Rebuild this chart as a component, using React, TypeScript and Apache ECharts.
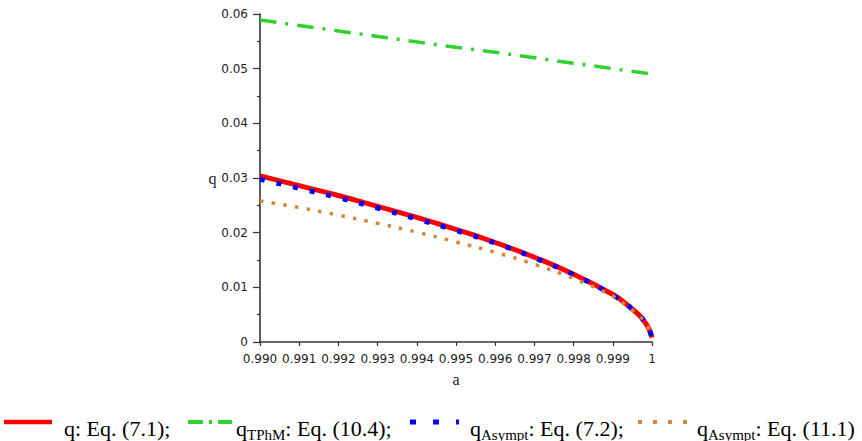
import React, { useEffect, useRef } from 'react';
import * as echarts from 'echarts';

// Sample points in a (denser towards a = 1, where the curves bend sharply)
const aValues = [0.99, 0.991, 0.992, 0.993, 0.994, 0.995, 0.996, 0.997, 0.998, 0.999, 0.9993, 0.9995, 0.9997, 0.9998, 0.9999, 0.99995, 1.0];
// q: Eq. (7.1)
const qEq71 = [0.0304, 0.0286, 0.0268, 0.0248, 0.0228, 0.0206, 0.0182, 0.0155, 0.0124, 0.0087, 0.0072, 0.006, 0.0047, 0.0038, 0.0027, 0.0019, 0.0008];
// q_Asympt: Eq. (7.2)
const qEq72 = [0.0298, 0.0281, 0.0264, 0.0245, 0.0225, 0.0204, 0.0181, 0.0154, 0.0123, 0.0086, 0.0071, 0.006, 0.0047, 0.0038, 0.0027, 0.0019, 0.0008];
// q_Asympt: Eq. (11.1)
const qEq111 = [0.0258, 0.0246, 0.0232, 0.0217, 0.0201, 0.0183, 0.0164, 0.0142, 0.0116, 0.0084, 0.0069, 0.0058, 0.0046, 0.0038, 0.0027, 0.0019, 0.0008];

// q_TPhM: Eq. (10.4)
const aTPhM = [0.99, 0.991, 0.992, 0.993, 0.994, 0.995, 0.996, 0.997, 0.998, 0.999, 1.0];
const qEq104 = [0.0589, 0.0579, 0.0569, 0.0559, 0.0549, 0.0539, 0.053, 0.052, 0.051, 0.05, 0.049];

// Axis tick labels
const xTickLabels = ['0.990', '0.991', '0.992', '0.993', '0.994', '0.995', '0.996', '0.997', '0.998', '0.999', '1'];
const yTickLabels = ['0', '0.01', '0.02', '0.03', '0.04', '0.05', '0.06'];

// Legend entries: main symbol, subscript, remainder
const legendMain = ['q', 'q', 'q', 'q'];
const legendSub = ['', 'TPhM', 'Asympt', 'Asympt'];
const legendRest = [': Eq. (7.1);', ': Eq. (10.4);', ': Eq. (7.2);', ': Eq. (11.1)'];

const RED = '#ff0000';
const GREEN = '#2fd22f';
const BLUE = '#0000ff';
const ORANGE = '#d2883c';

const pairs = (xs: number[], ys: number[]) => xs.map((x, i) => [x, ys[i]]);

const serif = '"Liberation Serif", "Times New Roman", serif';
const sans = '"DejaVu Sans", sans-serif';

function legendText(i: number, x: number) {
  const sub = legendSub[i];
  const text = sub
    ? `{m|${legendMain[i]}}{s|${sub}}{m|${legendRest[i]}}`
    : `{m|${legendMain[i]}${legendRest[i]}}`;
  return {
    type: 'text',
    x,
    y: 427,
    style: {
      text,
      fill: '#000',
      verticalAlign: 'middle',
      rich: {
        m: { fontFamily: serif, fontSize: 22, lineHeight: 24, fill: '#000', verticalAlign: 'bottom' },
        s: { fontFamily: serif, fontSize: 15, lineHeight: 15, fill: '#000', verticalAlign: 'bottom', padding: [0, 0, -3, 0] },
      },
    },
  };
}

function sample(x1: number, x2: number, color: string, width: number, dash: number[] | null) {
  return {
    type: 'line',
    shape: { x1, y1: 422, x2, y2: 422 },
    style: { stroke: color, lineWidth: width, lineDash: dash || undefined, lineCap: 'butt' },
  };
}

export default function App() {
  const ref = useRef<HTMLDivElement>(null);

  useEffect(() => {
    if (!ref.current) return;
    const chart = echarts.init(ref.current, null, { renderer: 'svg' });
    const axisColor = '#333';
    chart.setOption({
      animation: false,
      backgroundColor: '#fff',
      grid: { left: 260, right: 210, top: 14, bottom: 99 },
      xAxis: {
        type: 'value',
        min: 0.99,
        max: 1.0,
        interval: 0.001,
        name: 'a',
        nameLocation: 'middle',
        nameGap: 29,
        nameTextStyle: { fontFamily: serif, fontSize: 16, color: '#222' },
        axisLine: { show: true, onZero: false, lineStyle: { color: axisColor, width: 1.6 } },
        axisTick: { show: true, length: 4, lineStyle: { color: axisColor, width: 1.2 } },
        splitLine: { show: false },
        axisLabel: {
          margin: 11,
          fontFamily: sans,
          fontSize: 12,
          color: '#222',
          formatter: (v: number) => xTickLabels[Math.round((v - 0.99) / 0.001)] ?? '',
        },
      },
      yAxis: {
        type: 'value',
        min: 0,
        max: 0.06,
        interval: 0.01,
        name: 'q',
        nameLocation: 'middle',
        nameRotate: 0,
        nameGap: 43,
        nameTextStyle: { fontFamily: serif, fontSize: 16, color: '#222' },
        axisLine: { show: true, lineStyle: { color: axisColor, width: 1.6 } },
        axisTick: { show: true, length: 7, lineStyle: { color: axisColor, width: 1.2 } },
        minorTick: { show: true, splitNumber: 2, length: 3, lineStyle: { color: axisColor, width: 1.2 } },
        splitLine: { show: false },
        axisLabel: {
          margin: 12,
          fontFamily: sans,
          fontSize: 12,
          color: '#222',
          formatter: (v: number) => yTickLabels[Math.round(v / 0.01)] ?? '',
        },
      },
      series: [
        {
          name: 'q: Eq. (7.1)',
          type: 'line',
          data: pairs(aValues, qEq71),
          showSymbol: false,
          smooth: 0.5,
          lineStyle: { color: RED, width: 5 },
        },
        {
          name: 'q_TPhM: Eq. (10.4)',
          type: 'line',
          data: pairs(aTPhM, qEq104),
          showSymbol: false,
          lineStyle: { color: GREEN, width: 3.5, type: [16.5, 9, 3, 9], cap: 'butt' },
        },
        {
          name: 'q_Asympt: Eq. (7.2)',
          type: 'line',
          data: pairs(aValues, qEq72),
          showSymbol: false,
          smooth: 0.5,
          lineStyle: { color: BLUE, width: 5, type: [5, 12], cap: 'butt' },
        },
        {
          name: 'q_Asympt: Eq. (11.1)',
          type: 'line',
          data: pairs(aValues, qEq111),
          showSymbol: false,
          smooth: 0.5,
          lineStyle: { color: ORANGE, width: 3.5, type: [3.5, 8.3], cap: 'butt' },
        },
      ],
      graphic: [
        sample(4, 52, RED, 4.3, null),
        legendText(0, 64),
        sample(188, 232, GREEN, 4, [15, 6, 3, 6]),
        legendText(1, 236),
        sample(410, 459, BLUE, 5, [6, 17]),
        legendText(2, 470),
        sample(638, 688, ORANGE, 4, [4, 11]),
        legendText(3, 697),
      ],
    });
    return () => chart.dispose();
  }, []);

  return (
    <div
      ref={ref}
      style={{ position: 'fixed', left: 0, top: 0, width: 862, height: 441, background: '#fff' }}
    />
  );
}
